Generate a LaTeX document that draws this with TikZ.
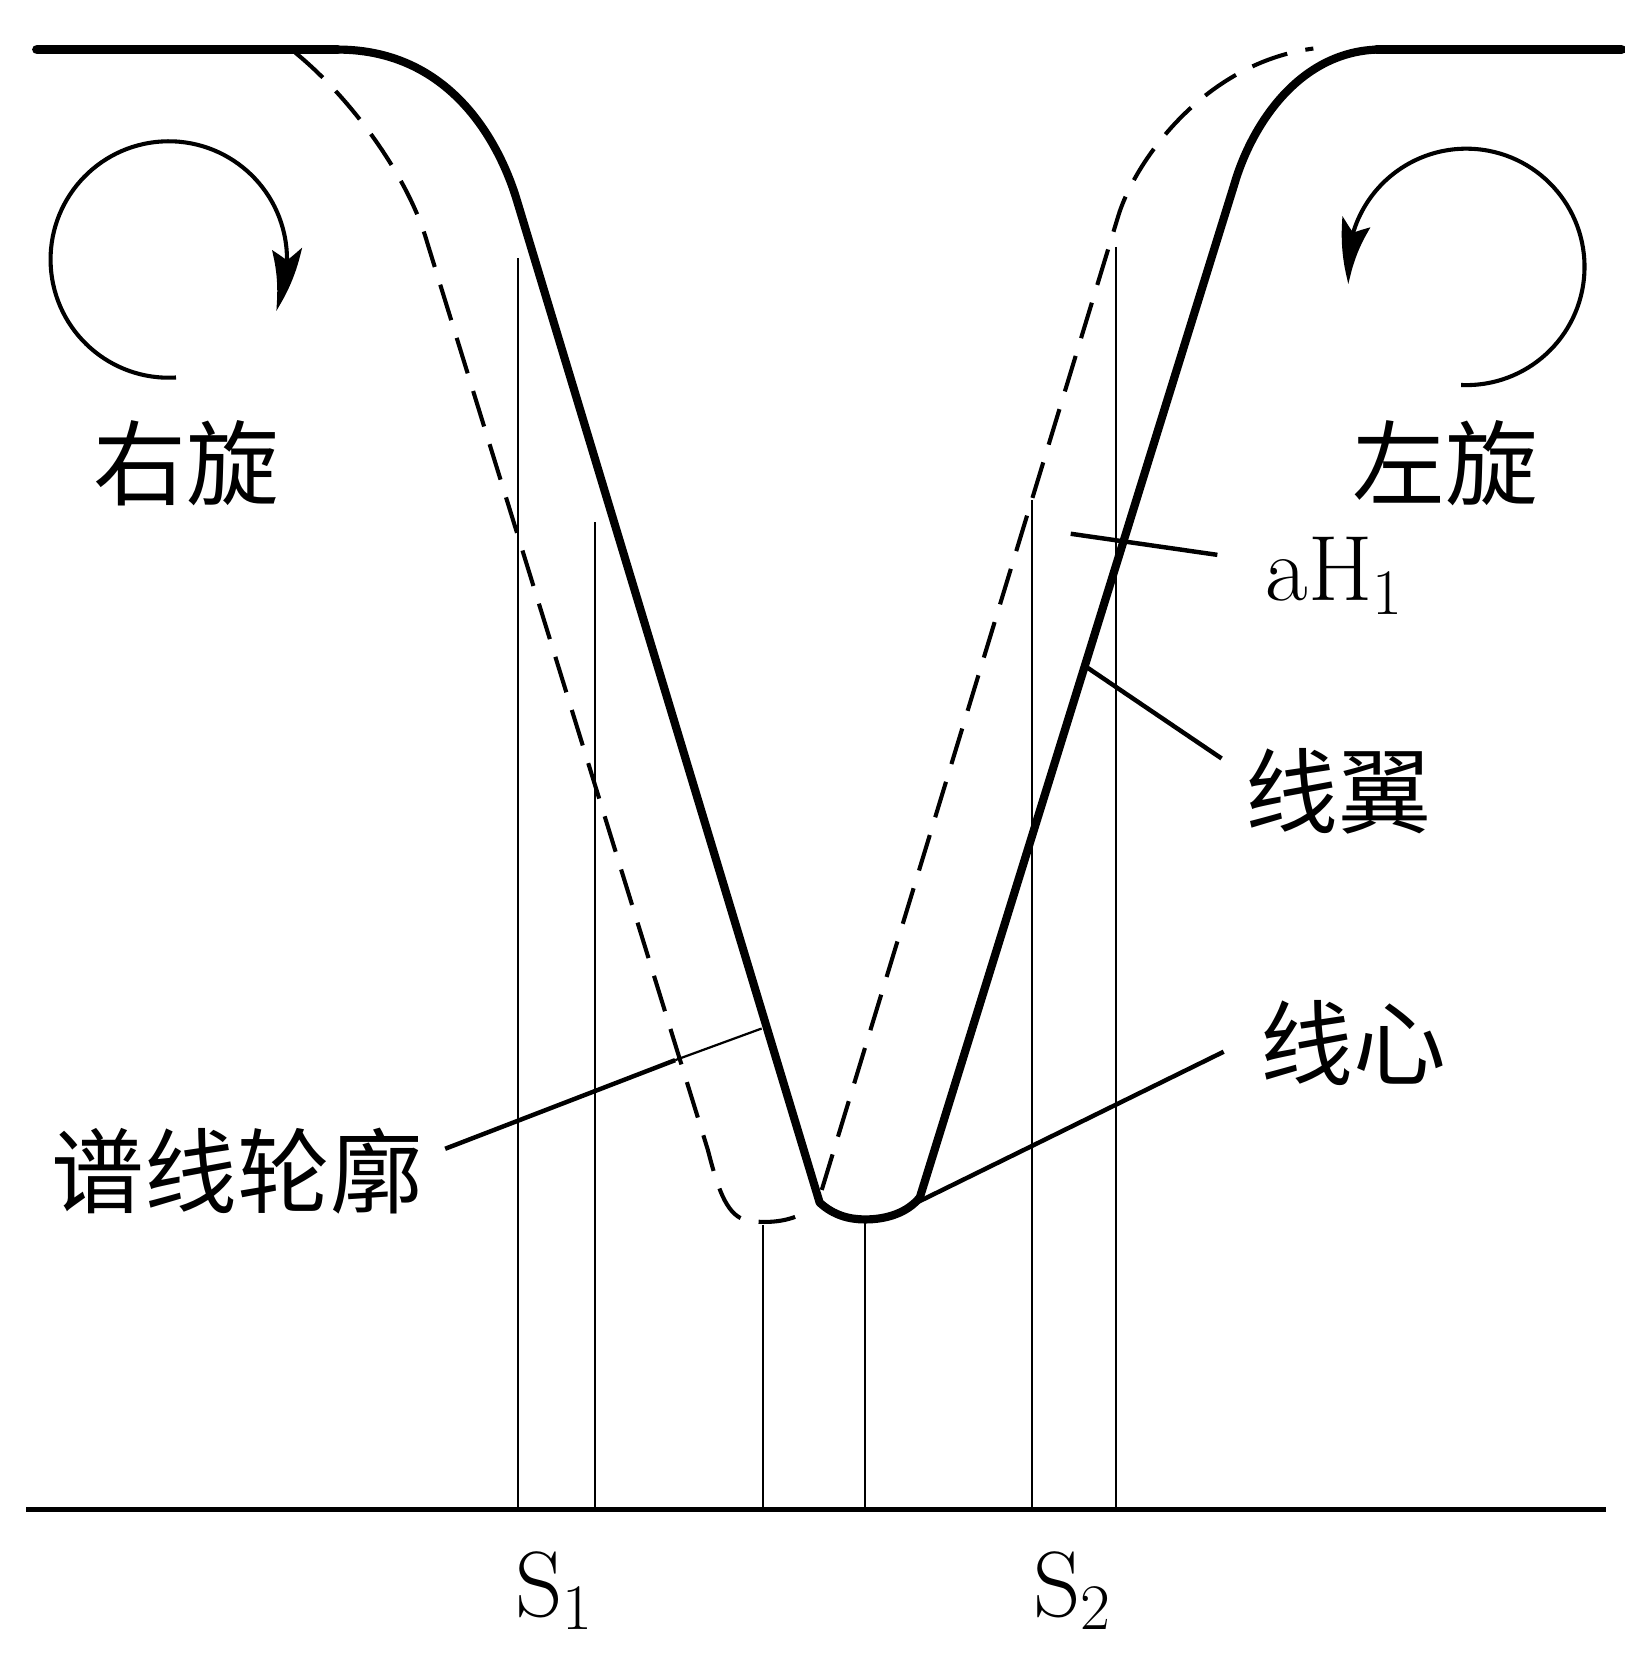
\documentclass[tikz,border=0pt]{standalone}
\usepackage{fontspec}
\newfontfamily\cjk{Noto Sans CJK SC}
\usetikzlibrary{arrows.meta,bending}
\begin{document}
\begin{tikzpicture}[x=0.01cm,y=-0.01cm,
  topline/.style={line width=2.6pt, line cap=round},
  solidprof/.style={line width=2.2pt, line join=round},
  dashprof/.style={line width=1.1pt, dash pattern=on 10pt off 5pt},
  vline/.style={line width=0.55pt},
  lead/.style={line width=1.2pt},
  leadthin/.style={line width=0.6pt},
  baseaxis/.style={line width=1.4pt},
  rot/.style={line width=1.1pt, -{Stealth[length=17pt,width=8pt,inset=3pt,bend]}},
  cjklabel/.style={font=\cjk\fontsize{25}{30}\selectfont, inner sep=0pt},
  latlabel/.style={font=\fontsize{25}{30}\selectfont, inner sep=0pt, anchor=base west}]
\useasboundingbox (0,0) rectangle (1540,1567);

% top continuum and axis
\coordinate (TL0) at (35,47);
\coordinate (TL1) at (320,47);
\coordinate (TR0) at (1305,47);
\coordinate (TR1) at (1537,47);
\coordinate (B0) at (25,1431);
\coordinate (B1) at (1522,1431);
\draw[topline] (TL0) -- (TL1);
\draw[topline] (TR0) -- (TR1);
\draw[baseaxis] (B0) -- (B1);

% solid profile
\draw[solidprof] (TL1) .. controls (430,47) and (475,140) .. (490,190)
  -- (777,1140) .. controls (790,1152) and (805,1156) .. (820,1156)
  .. controls (840,1156) and (860,1150) .. (872,1135)
  -- (1170,175) .. controls (1186,120) and (1230,50) .. (TR0);

% dashed profile
\draw[dashprof] (280,50) .. controls (335,95) and (388,170) .. (405,230)
  -- (671,1090) .. controls (680,1125) and (688,1150) .. (705,1156)
  .. controls (725,1161) and (750,1158) .. (765,1148);
\draw[dashprof] (779,1128) -- (1060,205) .. controls (1075,155) and (1140,60) .. (1245,46);

% vertical lines
\foreach \xx/\yy in {491/245, 564/495, 723/1161, 820/1156, 978/474, 1058/234}{
  \draw[vline] (\xx,\yy) -- (\xx,1431);
}

% rotation arrows
\coordinate (cL) at (160,246);
\coordinate (cR) at (1390,253);
\draw[rot] (cL) ++(273.5:1.12cm) arc[start angle=273.5, end angle=-25.6, radius=1.12cm];
\draw[rot] (cR) ++(-92.5:1.12cm) arc[start angle=-92.5, end angle=188.3, radius=1.12cm];

% labels
\node[cjklabel] (lR) at (177,439) {右旋};
\node[cjklabel] (lL) at (1370,439) {左旋};
\node[latlabel] (aH) at (1199,569) {$\mathrm{aH_1}$};
\node[cjklabel] (lW) at (1269,750) {线翼};
\node[cjklabel] (lC) at (1283,989) {线心};
\node[cjklabel] (lP) at (225,1110) {谱线轮廓};
\node[latlabel] (s1) at (488,1532) {$\mathrm{S_1}$};
\node[latlabel] (s2) at (979,1532) {$\mathrm{S_2}$};

% leader lines
\coordinate (pP0) at (422,1089);
\coordinate (pP1) at (640,1005);
\coordinate (pP2) at (722,975);
\draw[lead] (pP0) -- (pP1);
\draw[leadthin] (pP1) -- (pP2);
\coordinate (pC0) at (867,1141);
\coordinate (pC1) at (1160,997);
\draw[lead] (pC0) -- (pC1);
\coordinate (pA0) at (1015,506);
\coordinate (pA1) at (1154,526);
\draw[lead] (pA0) -- (pA1);
\coordinate (pW0) at (1028,631);
\coordinate (pW1) at (1158,719);
\draw[lead] (pW0) -- (pW1);
\end{tikzpicture}
\end{document}
